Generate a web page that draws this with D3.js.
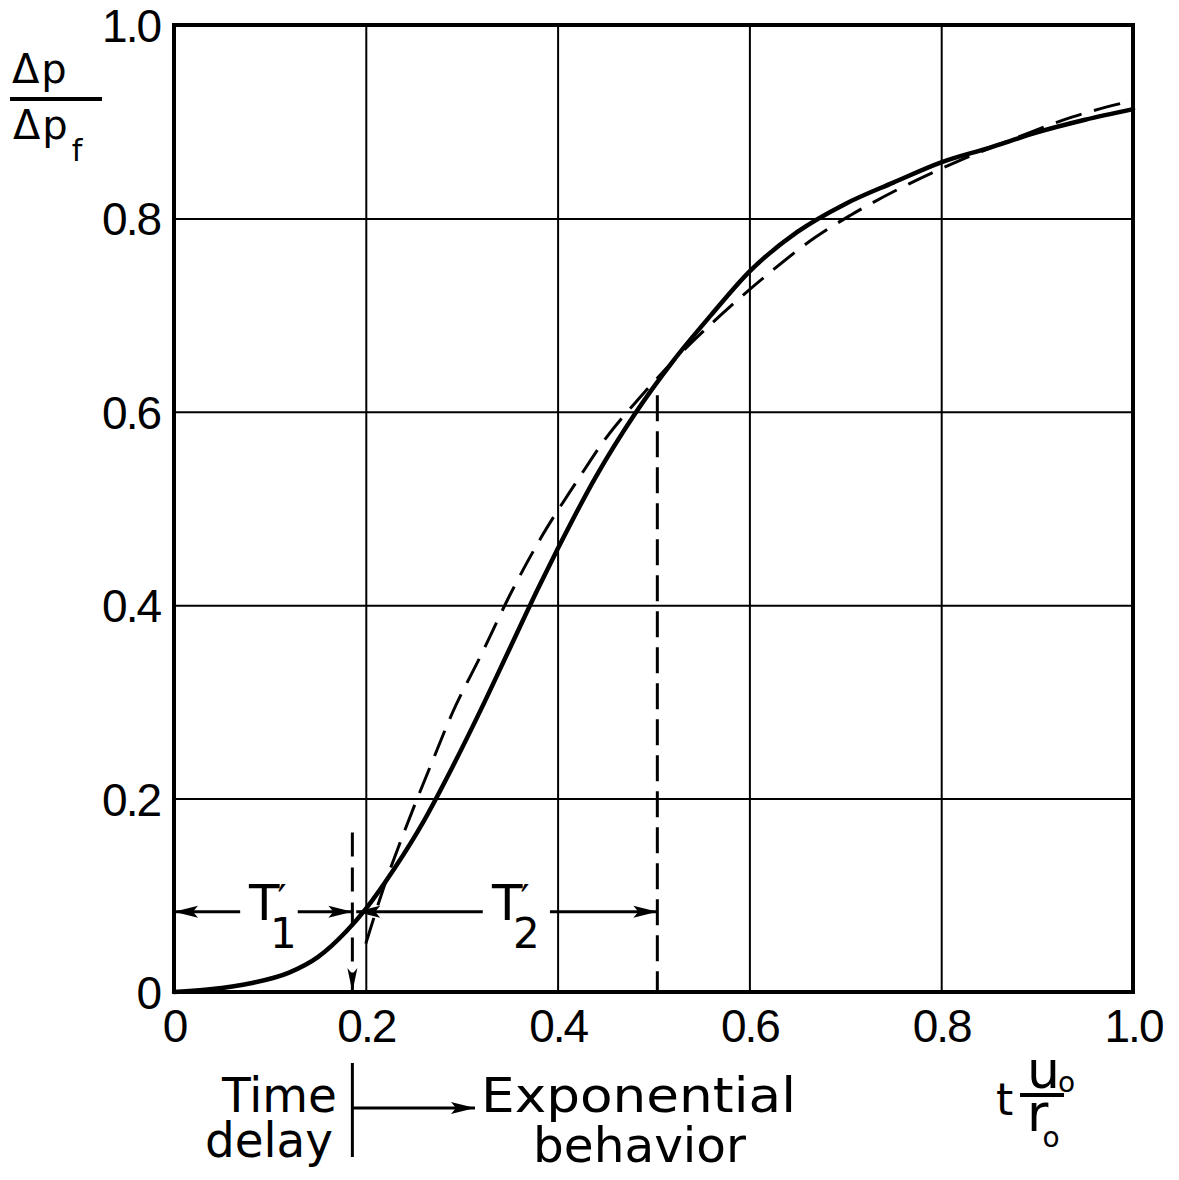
<!DOCTYPE html>
<html>
<head>
<meta charset="utf-8">
<script src="https://cdn.jsdelivr.net/npm/d3@7"></script>
<style>
  body { margin: 0; background: #fff; }
  svg { display: block; font-family: "DejaVu Sans", sans-serif; }
</style>
</head>
<body>
<div id="chart-area"></div>
<script>
// values
const xTicks = [0, 0.2, 0.4, 0.6, 0.8, 1.0];
const yTicks = [0, 0.2, 0.4, 0.6, 0.8, 1.0];

// measured pressure response (solid line)
const measuredT = [0, 0.04, 0.08, 0.12, 0.15, 0.18, 0.20, 0.23, 0.26, 0.29, 0.32, 0.35, 0.38, 0.40,
                   0.44, 0.48, 0.52, 0.56, 0.60, 0.65, 0.70, 0.75, 0.80, 0.85, 0.90, 0.95, 1.00];
const measuredP = [0, 0.003, 0.009, 0.020, 0.036, 0.063, 0.086, 0.128, 0.176, 0.232, 0.292, 0.355, 0.418, 0.458,
                   0.533, 0.597, 0.652, 0.700, 0.745, 0.786, 0.815, 0.837, 0.858, 0.873, 0.889, 0.902, 0.913];

// time delay + exponential approximation (dashed line)
const fitT = [0.200, 0.218, 0.241, 0.270, 0.290, 0.321, 0.350, 0.384, 0.420, 0.449, 0.486,
              0.532, 0.579, 0.625, 0.668, 0.705, 0.767, 0.822, 0.880, 0.937, 1.000];
const fitP = [0.050, 0.106, 0.168, 0.240, 0.288, 0.350, 0.410, 0.472, 0.528, 0.571, 0.615,
              0.664, 0.708, 0.747, 0.780, 0.803, 0.836, 0.861, 0.884, 0.905, 0.922];

// T1' (delay) and end of T2'
const delayT = 0.186;
const tauEnd = 0.504;
const markLevel = 0.083;

const W = 1179, H = 1180;
const x = d3.scaleLinear().domain([0, 1]).range([174, 1133]);
const y = d3.scaleLinear().domain([0, 1]).range([992, 25]);

const svg = d3.select("#chart-area").append("svg")
    .attr("width", W)
    .attr("height", H)

svg.append("rect").attr("width", W).attr("height", H).attr("fill", "#fff")

// arrow heads
const defs = svg.append("defs")
defs.append("marker")
    .attr("id", "arrow")
    .attr("markerUnits", "userSpaceOnUse")
    .attr("markerWidth", 26).attr("markerHeight", 16)
    .attr("refX", 24).attr("refY", 8)
    .attr("orient", "auto-start-reverse")
    .append("path")
    .attr("d", "M0,2 L24,8 L0,14 L5,8 Z")
    .attr("fill", "#000")
defs.append("marker")
    .attr("id", "thin")
    .attr("markerUnits", "userSpaceOnUse")
    .attr("markerWidth", 26).attr("markerHeight", 12)
    .attr("refX", 24).attr("refY", 6)
    .attr("orient", "auto")
    .append("path")
    .attr("d", "M0,1 L24,6 L0,11 L6,6 Z")
    .attr("fill", "#000")

// grid + tick labels
const fmt = d => d === 0 ? "0" : d3.format(".1f")(d);

const gx = svg.append("g")
    .attr("transform", `translate(0,${y(0)})`)
    .call(d3.axisBottom(x).tickValues(xTicks).tickSize(-(y(0) - y(1))).tickPadding(17).tickFormat(fmt))
const gy = svg.append("g")
    .attr("transform", `translate(${x(0)},0)`)
    .call(d3.axisLeft(y).tickValues(yTicks).tickSize(-(x(1) - x(0))).tickPadding(14).tickFormat(fmt))

;[gx, gy].forEach(g => {
    g.select(".domain").remove()
    g.selectAll(".tick line").attr("stroke", "#000").attr("stroke-width", 2)
    g.selectAll(".tick text")
        .attr("fill", "#000")
        .attr("font-size", 46)
        .attr("letter-spacing", -2)
})
gy.selectAll(".tick text").attr("dy", "0.36em")

// frame
svg.append("rect")
    .attr("x", x(0)).attr("y", y(1))
    .attr("width", x(1) - x(0)).attr("height", y(0) - y(1))
    .attr("fill", "none").attr("stroke", "#000").attr("stroke-width", 4)

// curves
const line = d3.line().x(d => x(d[0])).y(d => y(d[1])).curve(d3.curveMonotoneX)

svg.append("path")
    .datum(fitT.map((t, i) => [t, fitP[i]]))
    .attr("d", line)
    .attr("fill", "none").attr("stroke", "#000")
    .attr("stroke-width", 3).attr("stroke-dasharray", "27,13")

svg.append("path")
    .datum(measuredT.map((t, i) => [t, measuredP[i]]))
    .attr("d", line)
    .attr("fill", "none").attr("stroke", "#000")
    .attr("stroke-width", 4.5).attr("stroke-linecap", "round")

// vertical dashed markers
svg.append("line")
    .attr("x1", x(delayT)).attr("x2", x(delayT))
    .attr("y1", y(0.165)).attr("y2", y(0))
    .attr("stroke", "#000").attr("stroke-width", 3)
    .attr("stroke-dasharray", "24,11")
    .attr("marker-end", "url(#thin)")
svg.append("line")
    .attr("x1", x(tauEnd)).attr("x2", x(tauEnd))
    .attr("y1", y(0.617)).attr("y2", y(0))
    .attr("stroke", "#000").attr("stroke-width", 3)
    .attr("stroke-dasharray", "26,10")

// T1' and T2' dimension arrows
const dims = [
    [0, 0.069, "start"], [0.129, delayT, "end"],
    [0.19, 0.322, "start"], [0.392, tauEnd, "end"]
]
dims.forEach(d => {
    svg.append("line")
        .attr("x1", x(d[0])).attr("x2", x(d[1]))
        .attr("y1", y(markLevel)).attr("y2", y(markLevel))
        .attr("stroke", "#000").attr("stroke-width", 3)
        .attr(d[2] === "start" ? "marker-start" : "marker-end", "url(#arrow)")
})

const tLabel = (cx, sub) => {
    const t = svg.append("text").attr("x", cx).attr("y", 920).attr("font-size", 50).attr("fill", "#000")
    t.append("tspan").text("T")
    t.append("tspan").attr("dx", -2).attr("dy", -6).attr("font-size", 40).text("\u2032")
    t.append("tspan").attr("x", cx + 21).attr("dy", 34).attr("font-size", 42).text(sub)
}
tLabel(249, "1")
tLabel(492, "2")

// y axis title
const yl = svg.append("g").attr("fill", "#000")
yl.append("text").attr("x", 12).attr("y", 83).attr("font-size", 40)
    .attr("letter-spacing", 2).text("\u0394p")
yl.append("line").attr("x1", 10).attr("x2", 102).attr("y1", 99).attr("y2", 99)
    .attr("stroke", "#000").attr("stroke-width", 4)
const yb = yl.append("text").attr("x", 13).attr("y", 139).attr("font-size", 40).attr("letter-spacing", 2)
yb.append("tspan").text("\u0394p")
yb.append("tspan").attr("dx", 2).attr("dy", 22).attr("font-size", 30).text("f")

// x axis title  t u0/r0
const xl = svg.append("g").attr("fill", "#000")
xl.append("text").attr("x", 996).attr("y", 1115).attr("font-size", 44).text("t")
xl.append("line").attr("x1", 1020).attr("x2", 1064).attr("y1", 1095).attr("y2", 1095)
    .attr("stroke", "#000").attr("stroke-width", 4)
const xu = xl.append("text").attr("x", 1027).attr("y", 1088).attr("font-size", 52)
xu.append("tspan").text("u")
xu.append("tspan").attr("dx", -2).attr("dy", 4).attr("font-size", 28).text("o")
const xr = xl.append("text").attr("x", 1027).attr("y", 1131).attr("font-size", 52)
xr.append("tspan").text("r")
xr.append("tspan").attr("dx", -6).attr("dy", 16).attr("font-size", 28).text("o")

// regime note under the axis
const note = svg.append("g").attr("fill", "#000").attr("font-size", 48)
note.append("text").attr("x", 222).attr("y", 1112).attr("textLength", 115).attr("lengthAdjust", "spacingAndGlyphs").text("Time")
note.append("text").attr("x", 205).attr("y", 1157).attr("textLength", 128).attr("lengthAdjust", "spacingAndGlyphs").text("delay")
note.append("text").attr("x", 481).attr("y", 1112).attr("textLength", 315).attr("lengthAdjust", "spacingAndGlyphs").text("Exponential")
note.append("text").attr("x", 533).attr("y", 1162).attr("textLength", 213).attr("lengthAdjust", "spacingAndGlyphs").text("behavior")

svg.append("line")
    .attr("x1", x(delayT)).attr("x2", x(delayT))
    .attr("y1", 1063).attr("y2", 1157)
    .attr("stroke", "#000").attr("stroke-width", 3)
svg.append("line")
    .attr("x1", x(delayT)).attr("x2", 475)
    .attr("y1", 1108).attr("y2", 1108)
    .attr("stroke", "#000").attr("stroke-width", 3)
    .attr("marker-end", "url(#arrow)")
</script>
</body>
</html>
